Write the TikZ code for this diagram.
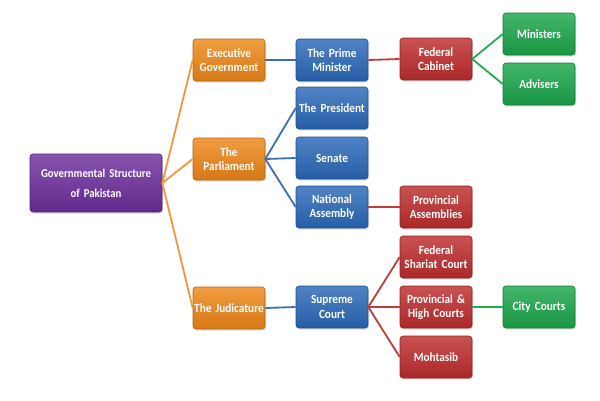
\documentclass[tikz,border=0pt]{standalone}
\usepackage{fontspec}
\setmainfont{Carlito}[FakeStretch=0.9]
\usetikzlibrary{shadows}
\definecolor{purp}{RGB}{108,46,156}
\definecolor{orng}{RGB}{238,134,24}
\definecolor{blu}{RGB}{42,104,184}
\definecolor{rd}{RGB}{190,44,44}
\definecolor{grn}{RGB}{26,166,74}
\definecolor{oline}{RGB}{240,150,60}
\definecolor{bline}{RGB}{60,110,180}
\definecolor{rline}{RGB}{190,60,60}
\definecolor{gline}{RGB}{40,170,80}
\begin{document}
\begin{tikzpicture}[x=1pt,y=-1pt,
  box/.style={rounded corners=3pt, minimum width=72pt, minimum height=42pt,
    text width=70pt, align=center, inner sep=0pt, text=white,
    font=\bfseries\fontsize{12.5}{14.5}\selectfont,
    draw=#1!75!black, line width=0.6pt,
    top color=#1!82!white, bottom color=#1!90!black,
    drop shadow={opacity=0.25, shadow xshift=1pt, shadow yshift=-1.5pt}},
  conn/.style={line width=1.8pt, draw=#1}
]
\useasboundingbox (0,0) rectangle (600,400);
% root
\node[box=purp, minimum width=132pt, minimum height=58pt, text width=128pt,
  font=\bfseries\fontsize{12}{20}\selectfont] (root) at (96,183) {Governmental Structure\\of Pakistan};
% level 1
\node[box=orng] (exec) at (229,60) {Executive\\Government};
\node[box=orng] (parl) at (229,159) {The\\Parliament};
\node[box=orng] (jud) at (229,308) {The Judicature};
% level 2
\node[box=blu] (pm) at (332,60) {The Prime\\Minister};
\node[box=blu] (pres) at (332,108) {The President};
\node[box=blu] (sen) at (332,158) {Senate};
\node[box=blu] (na) at (332,207) {National\\Assembly};
\node[box=blu] (sc) at (332,307) {Supreme\\Court};
% level 3
\node[box=rd] (fc) at (436,59) {Federal\\Cabinet};
\node[box=rd] (pa) at (436,207) {Provincial\\Assemblies};
\node[box=rd] (fsc) at (436,257) {Federal\\Shariat Court};
\node[box=rd] (phc) at (436,307) {Provincial \&\\High Courts};
\node[box=rd] (moh) at (436,357) {Mohtasib};
% level 4
\node[box=grn] (min) at (539,34) {Ministers};
\node[box=grn] (adv) at (539,84) {Advisers};
\node[box=grn] (cc) at (539,307) {City Courts};
% connectors
\draw[conn=oline] (root.east) -- (exec.west);
\draw[conn=oline] (root.east) -- (parl.west);
\draw[conn=oline] (root.east) -- (jud.west);
\draw[conn=bline] (exec.east) -- (pm.west);
\draw[conn=bline] (parl.east) -- (pres.west);
\draw[conn=bline] (parl.east) -- (sen.west);
\draw[conn=bline] (parl.east) -- (na.west);
\draw[conn=bline] (jud.east) -- (sc.west);
\draw[conn=rline] (pm.east) -- (fc.west);
\draw[conn=rline] (na.east) -- (pa.west);
\draw[conn=rline] (sc.east) -- (fsc.west);
\draw[conn=rline] (sc.east) -- (phc.west);
\draw[conn=rline] (sc.east) -- (moh.west);
\draw[conn=gline] (fc.east) -- (min.west);
\draw[conn=gline] (fc.east) -- (adv.west);
\draw[conn=gline] (phc.east) -- (cc.west);
\end{tikzpicture}
\end{document}
